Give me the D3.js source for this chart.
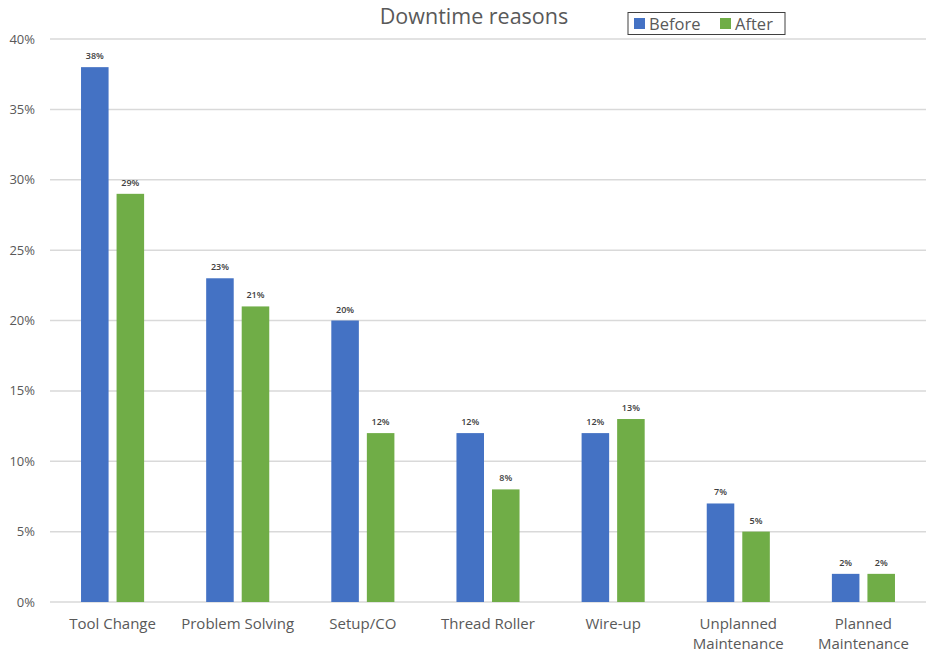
<!DOCTYPE html>
<html><head><meta charset="utf-8">
<script src="https://cdn.jsdelivr.net/npm/d3@7"></script>
<style>body{margin:0;background:#fff}svg{display:block}text{font-family:"Open Sans",sans-serif}</style>
</head><body>
<script>
const categories = ["Tool Change","Problem Solving","Setup/CO","Thread Roller","Wire-up","Unplanned Maintenance","Planned Maintenance"];
const before = [38,23,20,12,12,7,2];
const after = [29,21,12,8,13,5,2];
const seriesNames = ["Before","After"];
const yTicks = [0,5,10,15,20,25,30,35,40];
const colors = ["#4472C4","#70AD47"];

const W=926,H=652;
const m={l:50,r:0,t:39,b:50};
const svg=d3.select("body").append("svg").attr("width",W).attr("height",H);
const x=d3.scaleBand().domain(categories).range([m.l,W-m.r]);
const y=d3.scaleLinear().domain([0,40]).range([H-m.b,m.t]);

// gridlines
svg.append("g").selectAll("line").data(yTicks).join("line")
 .attr("x1",m.l).attr("x2",W).attr("y1",d=>y(d)).attr("y2",d=>y(d))
 .attr("stroke","#d9d9d9").attr("stroke-width",1.5);
svg.append("g").selectAll("text").data(yTicks).join("text")
 .attr("x",35).attr("y",d=>y(d)).attr("dy","0.35em").attr("text-anchor","end")
 .attr("font-size",13).attr("fill","#595959").text(d=>d+"%");

const inner=d3.scaleBand().domain(seriesNames).range([0,x.bandwidth()]).paddingInner(0.225).paddingOuter(0.873);
const data=[before,after];
seriesNames.forEach((s,si)=>{
  const g=svg.append("g");
  g.selectAll("rect").data(categories).join("rect")
   .attr("x",c=>x(c)+inner(s)).attr("width",inner.bandwidth())
   .attr("y",(c,i)=>y(data[si][i])).attr("height",(c,i)=>y(0)-y(data[si][i]))
   .attr("fill",colors[si]);
  g.selectAll("text").data(categories).join("text")
   .attr("x",c=>x(c)+inner(s)+inner.bandwidth()/2).attr("y",(c,i)=>y(data[si][i])-8)
   .attr("text-anchor","middle").attr("font-size",9).attr("font-weight","600").attr("fill","#404040")
   .text((c,i)=>data[si][i]+"%");
});

// x labels
categories.forEach(c=>{
  const words=c.split(" ");
  const lines=(c==="Unplanned Maintenance"||c==="Planned Maintenance")?words:[c];
  const t=svg.append("text").attr("x",x(c)+x.bandwidth()/2).attr("y",629)
   .attr("text-anchor","middle").attr("font-size",15).attr("fill","#595959");
  lines.forEach((l,i)=>t.append("tspan").attr("x",x(c)+x.bandwidth()/2).attr("dy",i?20:0).text(l));
});

// title
svg.append("text").attr("x",474).attr("y",24).attr("text-anchor","middle")
 .attr("font-size",21.5).attr("fill","#595959").text("Downtime reasons");

// legend
const lg=svg.append("g");
lg.append("rect").attr("x",628).attr("y",12.5).attr("width",157).attr("height",22)
 .attr("fill","#fff").attr("stroke","#404040").attr("stroke-width",1);
const lx=[634,720];
seriesNames.forEach((s,i)=>{
  lg.append("rect").attr("x",lx[i]).attr("y",18).attr("width",11).attr("height",11).attr("fill",colors[i]);
  lg.append("text").attr("x",lx[i]+15).attr("y",24).attr("dy","0.35em").attr("font-size",16.5).attr("fill","#595959").text(s);
});
</script>
</body></html>
